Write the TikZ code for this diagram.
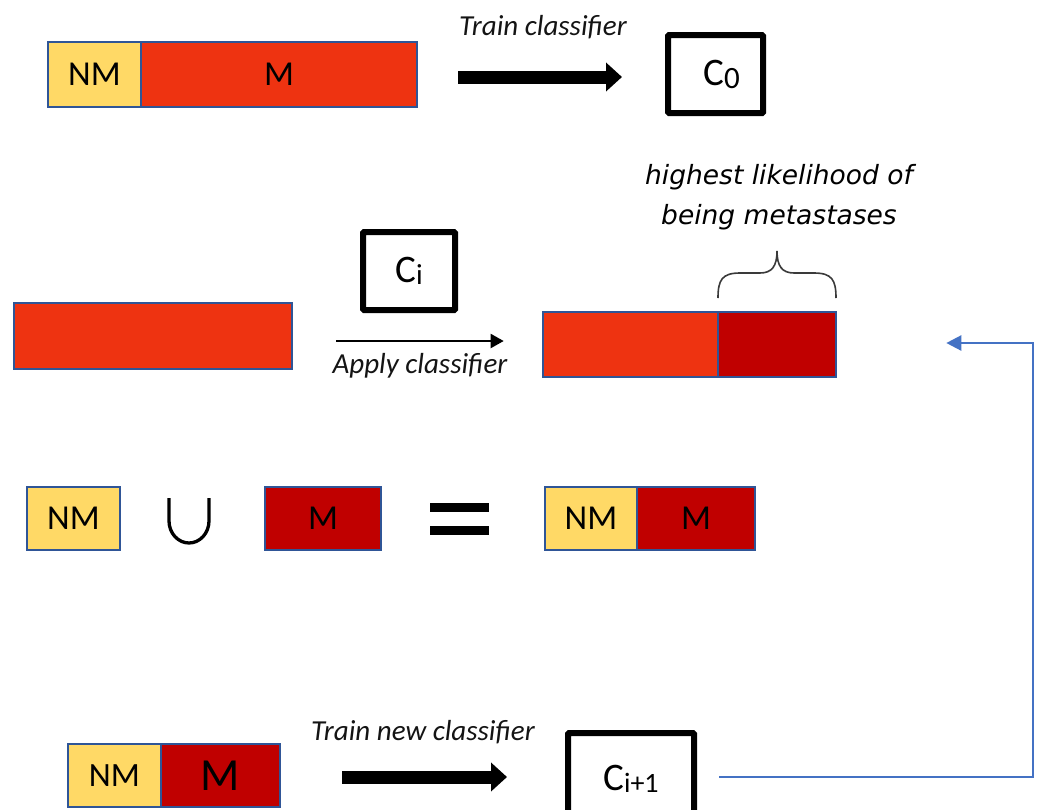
\documentclass[tikz,border=0pt]{standalone}
\usepackage{fontspec}
\setmainfont{Carlito}
\newfontfamily\bracefont{DejaVu Sans}
\usetikzlibrary{arrows.meta}
\definecolor{nmyellow}{HTML}{FFD966}
\definecolor{mred}{HTML}{EE3311}
\definecolor{mdark}{HTML}{C00000}
\definecolor{edgeblue}{HTML}{2F5597}
\definecolor{loopblue}{HTML}{4472C4}
\definecolor{bracegray}{HTML}{3A3A3A}
\begin{document}
\begin{tikzpicture}[x=1pt,y=-1pt,
  cell/.style={draw=edgeblue, line width=2.6pt, inner sep=0pt, font=\fontsize{35}{38}\selectfont, text=black},
  nmcell/.style={cell, fill=nmyellow},
  mcell/.style={cell, fill=mred},
  mdcell/.style={cell, fill=mdark},
  clsbox/.style={draw=black, line width=6pt, inner sep=0pt, rounded corners=1pt, font=\fontsize{39}{42}\selectfont},
  fatarrow/.style={line width=13pt, -{Triangle[length=16pt,width=28pt]}},
  thinarrow/.style={line width=2pt, -{Triangle[length=13pt,width=14pt]}},
  looparrow/.style={draw=loopblue, line width=2.4pt, -{Triangle[length=15pt,width=15pt]}},
  steplabel/.style={font=\fontsize{29}{32}\selectfont\itshape, text=black!92},
  bracelabel/.style={font=\bracefont\itshape\fontsize{26.5}{40}\selectfont, text=black, align=center}
]
\useasboundingbox (0,0) rectangle (1042,809);

% ---------- row 1 ----------
\node[nmcell, minimum width=93pt, minimum height=65pt] (nm1) at (94.5,74.5) {NM};
\node[mcell, minimum width=276pt, minimum height=65pt] (m1) at (279,74.5) {M};
\node[clsbox, minimum width=95pt, minimum height=78pt] (c0) at (715.5,74)
  {\hspace*{12pt}C\raisebox{-3pt}{\fontsize{31}{32}\selectfont 0}};
\node[steplabel] (t1) at (543,27) {Train classifier};
\draw[fatarrow, shorten <=40pt, shorten >=43pt] ([yshift=-2.5pt]m1.east) -- ([yshift=-3pt]c0.west);

% ---------- row 2 ----------
\node[mcell, minimum width=278pt, minimum height=66pt] (r2) at (153,336) {};
\node[clsbox, minimum width=92pt, minimum height=78pt] (ci) at (409,271)
  {C\raisebox{-2pt}{\fontsize{29}{30}\selectfont i}};
\node[mcell, minimum width=175pt, minimum height=65pt] (b2l) at (630.5,344.5) {};
\node[mdcell, minimum width=118pt, minimum height=65pt] (b2r) at (777,344.5) {};
\draw[thinarrow, shorten <=43pt, shorten >=38pt] ([yshift=-5pt]r2.east) -- ([yshift=3.5pt]b2l.west);
\node[steplabel] (t2) at (420,366) {Apply classifier};
\draw[bracegray, line width=1.6pt]
  (718,298) .. controls (718,280) and (722,273) .. (740,273) -- (760,273)
  .. controls (772,273) and (777,266) .. (777,251)
  .. controls (777,266) and (782,273) .. (794,273) -- (814,273)
  .. controls (832,273) and (836,280) .. (836,298);
\node[bracelabel] (bl) at (779,197) {highest likelihood of\\being metastases};

% ---------- row 3 ----------
\node[nmcell, minimum width=93pt, minimum height=63pt] (nm3) at (73.5,518.5) {NM};
\draw[line width=3.3pt] (169,498) -- (169,521)
  .. controls (169,533) and (178,543) .. (189,543)
  .. controls (200,543) and (209,533) .. (209,521) -- (209,498);
\node[mdcell, minimum width=116pt, minimum height=63pt] (m3) at (323,518.5) {M};
\fill (430,503) rectangle (489,512);
\fill (430,526) rectangle (489,535);
\node[nmcell, minimum width=92pt, minimum height=63pt] (nm3b) at (591,518.5) {NM};
\node[mdcell, minimum width=118pt, minimum height=63pt] (m3b) at (696,518.5) {M};

% ---------- row 4 ----------
\node[nmcell, minimum width=93pt, minimum height=63pt, font=\fontsize{34}{36}\selectfont] (nm4) at (114.5,775.5) {NM};
\node[mdcell, minimum width=119pt, minimum height=63pt, font=\fontsize{46}{48}\selectfont] (m4) at (220.5,775.5) {M};
\node[steplabel] (t4) at (423,732) {Train new classifier};
\node[clsbox, minimum width=126pt, minimum height=96pt] (ci1) at (631,781)
  {\raisebox{6pt}{C\raisebox{-2pt}{\fontsize{28}{30}\selectfont i+1}}};
\draw[fatarrow, shorten <=61pt, shorten >=58pt] ([yshift=-1.5pt]m4.east) -- ([yshift=4pt]ci1.west);

% ---------- feedback loop ----------
\coordinate (fbturn) at (1033,343);
\draw[looparrow, shorten <=22pt, shorten >=109pt] ([yshift=4pt]ci1.east) -| (fbturn) -- ([yshift=1.5pt]b2r.east);
\end{tikzpicture}
\end{document}
